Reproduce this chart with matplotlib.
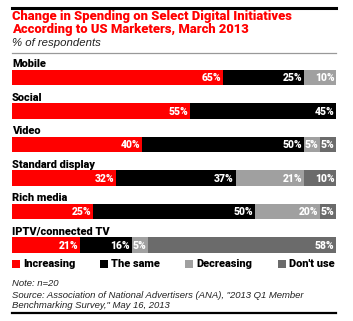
import matplotlib
matplotlib.use("Agg")
import matplotlib.pyplot as plt
from matplotlib.lines import Line2D
from matplotlib.patches import Rectangle

categories = ["Mobile", "Social", "Video", "Standard display", "Rich media", "IPTV/connected TV"]
increasing = [65, 55, 40, 32, 25, 21]
the_same = [25, 45, 50, 37, 50, 16]
decreasing = [10, 0, 5, 21, 20, 5]
dont_use = [0, 0, 5, 10, 5, 58]
series_names = ["Increasing", "The same", "Decreasing", "Don't use"]
colors = ["#ff0000", "#000000", "#a0a0a0", "#6b6b6b"]

W, H = 353, 321
fig = plt.figure(figsize=(W / 100, H / 100), dpi=100)
fig.patch.set_facecolor("white")
BOLD = ["Roboto", "Liberation Sans"]
HW = "black"

def fx(px):
    return px / W

def fy(py):
    return 1 - py / H

# Top thick line and gray separator
fig.add_artist(Line2D([fx(12), fx(336)], [fy(7.5), fy(7.5)], color="black", lw=2.2))
fig.text(fx(12), fy(16.5), "Change in Spending on Select Digital Initiatives",
         color="#ff0000", fontsize=9.35, fontweight=HW, va="center", ha="left",
         family=BOLD)
fig.text(fx(12), fy(29.5), "According to US Marketers, March 2013",
         color="#ff0000", fontsize=9.35, fontweight=HW, va="center", ha="left",
         family=BOLD)
fig.text(fx(12), fy(43), "% of respondents", color="#222222", fontsize=8.2,
         style="italic", va="center", ha="left", family="Liberation Sans")
fig.add_artist(Line2D([fx(12), fx(336)], [fy(52.5), fy(52.5)], color="#999999", lw=0.9))

# Bars axes
top_px, bot_px = 60.75, 261.75
ax = fig.add_axes([fx(12), fy(bot_px), fx(336) - fx(12), (bot_px - top_px) / H])
ax.set_xlim(0, 100)
ax.set_ylim(len(categories) - 0.5, -0.5)
ax.axis("off")

series = [increasing, the_same, decreasing, dont_use]
ypos = list(range(len(categories)))
left = [0] * len(categories)
for vals, col in zip(series, colors):
    ax.barh(ypos, vals, left=left, height=0.45, color=col, edgecolor="none")
    for i, v in enumerate(vals):
        if v > 0:
            ax.text(left[i] + v - 0.5, i + 0.02, f"{v}%", color="white",
                    fontsize=7.5, fontweight=HW, ha="right", va="center",
                    family=BOLD)
    left = [l + v for l, v in zip(left, vals)]

for i, c in enumerate(categories):
    ax.text(0, i - 0.39, c, color="black", fontsize=7.9, fontweight=HW,
            ha="left", va="center", family=BOLD)

# Legend
leg_x = [12, 100, 185, 278]
for x, name, col in zip(leg_x, series_names, colors):
    fig.add_artist(Rectangle((fx(x), fy(268)), fx(8), 8 / H, facecolor=col,
                             edgecolor="none", transform=fig.transFigure))
    fig.text(fx(x + 11), fy(264), name, color="black", fontsize=7.9,
             fontweight=HW, va="center", ha="left", family=BOLD)

# Notes
fig.text(fx(12), fy(284), "Note: n=20", fontsize=6.8, style="italic",
         color="#222222", va="center", family="Liberation Sans")
fig.text(fx(12), fy(295.5), 'Source: Association of National Advertisers (ANA), "2013 Q1 Member',
         fontsize=6.8, style="italic", color="#222222", va="center", family="Liberation Sans")
fig.text(fx(12), fy(305.5), 'Benchmarking Survey," May 16, 2013',
         fontsize=6.8, style="italic", color="#222222", va="center", family="Liberation Sans")
fig.add_artist(Line2D([fx(12), fx(336)], [fy(312.5), fy(312.5)], color="black", lw=1.6))

fig.savefig("out.png", dpi=100)
